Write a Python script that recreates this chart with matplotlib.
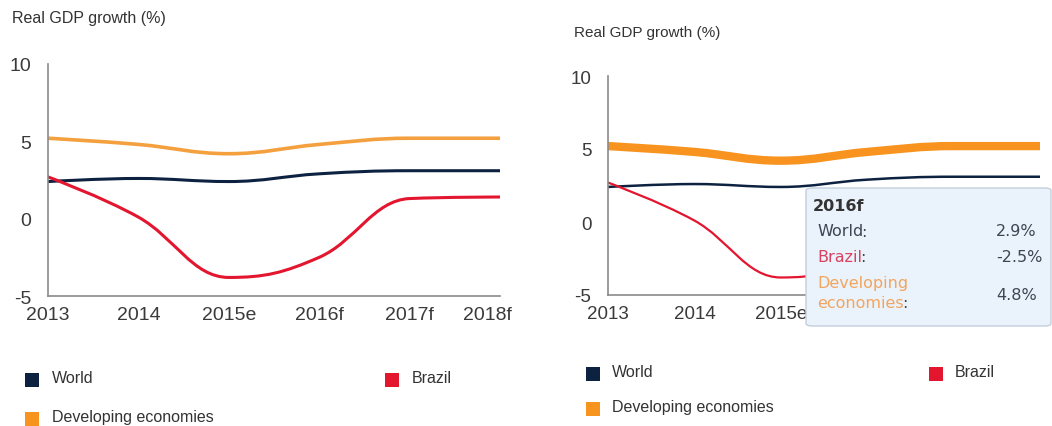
import matplotlib
matplotlib.use("Agg")
import matplotlib.pyplot as plt
from matplotlib.path import Path
from matplotlib.patches import PathPatch, Rectangle, FancyBboxPatch
from matplotlib.transforms import ScaledTranslation

plt.rcParams['font.family'] = ['Liberation Sans', 'DejaVu Sans']
plt.rcParams['axes.unicode_minus'] = False

# data
years = ['2013', '2014', '2015e', '2016f', '2017f', '2018f']
world = [2.4, 2.6, 2.4, 2.9, 3.1, 3.1]
brazil = [2.7, 0.1, -3.8, -2.5, 1.3, 1.4]
developing = [5.2, 4.8, 4.2, 4.8, 5.2, 5.2]
series_names = ['World', 'Brazil', 'Developing economies']
tip_index = 3  # hovered point in the right panel

C_WORLD = '#0d2240'
C_BRAZIL = '#e3152f'
C_DEV = '#f4a03f'
C_DEV_HOVER = '#f7931e'
W, H = 1052, 427


def px(x, y):
    # pixel position -> figure fraction
    return x / W, 1 - y / H


def spline_path(xs, ys, smoothing=1.5):
    # highcharts-style spline, bezier control points
    n = len(xs)
    left = [None] * n
    right = [None] * n
    denom = smoothing + 1
    for i in range(1, n - 1):
        x, y = xs[i], ys[i]
        lx, ly = xs[i - 1], ys[i - 1]
        nx, ny = xs[i + 1], ys[i + 1]
        lcx = (smoothing * x + lx) / denom
        lcy = (smoothing * y + ly) / denom
        rcx = (smoothing * x + nx) / denom
        rcy = (smoothing * y + ny) / denom
        if rcx != lcx:
            corr = ((rcy - lcy) * (rcx - x)) / (rcx - lcx) + y - rcy
            lcy += corr
            rcy += corr
        if lcy > ly and lcy > y:
            lcy = max(ly, y)
            rcy = 2 * y - lcy
        elif lcy < ly and lcy < y:
            lcy = min(ly, y)
            rcy = 2 * y - lcy
        if rcy > ny and rcy > y:
            rcy = max(ny, y)
            lcy = 2 * y - rcy
        elif rcy < ny and rcy < y:
            rcy = min(ny, y)
            lcy = 2 * y - rcy
        left[i] = (lcx, lcy)
        right[i] = (rcx, rcy)
    verts = [(xs[0], ys[0])]
    codes = [Path.MOVETO]
    for i in range(1, n):
        c1 = right[i - 1] or (xs[i - 1], ys[i - 1])
        c2 = left[i] or (xs[i], ys[i])
        verts += [c1, c2, (xs[i], ys[i])]
        codes += [Path.CURVE4] * 3
    return Path(verts, codes)


def panel(ax, widths, colors, label_size):
    xs = list(range(len(years)))
    for vals, lw, col in zip([developing, world, brazil], widths, colors):
        ax.add_patch(PathPatch(spline_path(xs, vals), fill=False, lw=lw,
                               edgecolor=col, capstyle='round', joinstyle='round'))
    ax.set_xlim(0, len(years) - 1)
    ax.set_ylim(-5, 10)
    ax.set_yticks([-5, 0, 5, 10])
    ax.set_xticks(xs, years)
    for s in ['top', 'right']:
        ax.spines[s].set_visible(False)
    for s in ['left', 'bottom']:
        ax.spines[s].set_color('#8a8a8a')
        ax.spines[s].set_linewidth(1.2)
    ax.tick_params(axis='both', length=0, labelsize=label_size, colors='#3a3a3a')
    ax.tick_params(axis='y', pad=12)
    ax.tick_params(axis='x', pad=7)
    ax.set_facecolor('none')
    # last category label is kept inside the plot, like the original
    last = ax.get_xticklabels()[-1]
    last.set_transform(last.get_transform() + ScaledTranslation(-13 / 100, 0, fig.dpi_scale_trans))


def legend(x0, y0, y1, xb, tx):
    for (x, y), name, col in zip([(x0, y0), (xb, y0), (x0, y1)], series_names,
                                 [C_WORLD, C_BRAZIL, '#f7941d']):
        fig.add_artist(Rectangle(px(x, y + 7), 14 / W, 14 / H, transform=fig.transFigure,
                                 facecolor=col, edgecolor='none'))
        fig.text(*px(x + tx, y - 2), name, fontsize=11.5, color='#333333', va='center')


fig = plt.figure(figsize=(10.52, 4.27), dpi=100)

ax1 = fig.add_axes([48 / W, 1 - 297 / H, 452 / W, 232 / H])
panel(ax1, [2.6, 2.2, 2.2], [C_DEV, C_WORLD, C_BRAZIL], 14)
ax2 = fig.add_axes([608 / W, 1 - 296 / H, 432 / W, 219 / H])
panel(ax2, [6, 1.8, 1.6], [C_DEV_HOVER, C_WORLD, C_BRAZIL], 13.5)

fig.text(*px(12, 18), 'Real GDP growth (%)', fontsize=11.5, color='#333333', va='center')
fig.text(*px(574, 33), 'Real GDP growth (%)', fontsize=11, color='#333333', va='center')

legend(25, 381, 420, 385, 27)
legend(586, 375, 410, 929, 26)

# tooltip on the right panel
fig.add_artist(FancyBboxPatch(px(806, 327), 245 / W, 138 / H, transform=fig.transFigure,
                              boxstyle='round,pad=0,rounding_size=0.006',
                              facecolor='#eaf2fb', edgecolor='#c3cfdc', lw=1, zorder=5))
tfont = dict(family=['DejaVu Sans'], fontsize=11.5, va='center', zorder=6)
fig.text(*px(813, 207), years[tip_index], fontweight='bold', color='#333333', **tfont)
renderer = fig.canvas.get_renderer()
rows = [(['World'], world, '#3d4654', 232), (['Brazil'], brazil, '#d9415e', 258),
        (['Developing', 'economies'], developing, '#f2a55e', 284)]
for lines, vals, col, y in rows:
    for k, line in enumerate(lines):
        t = fig.text(*px(817, y + 20 * k), line, color=col, **tfont)
    bb = t.get_window_extent(renderer)
    fig.text((bb.x1 - 2) / W, (bb.y0 + bb.y1) / 2 / H, ':', color='#3d4654', **tfont)
    fig.text(*px(996, y + 12 * (len(lines) - 1)),
             f'{vals[tip_index]:.1f}%', color='#3d4654', **tfont)

fig.savefig('out.png', dpi=100)
